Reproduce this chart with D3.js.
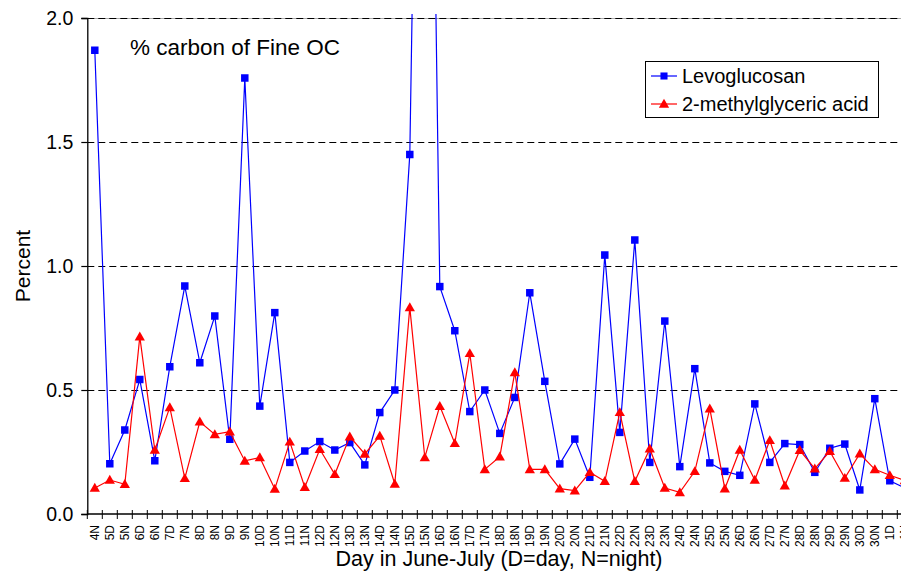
<!DOCTYPE html>
<html>
<head>
<meta charset="utf-8">
<script src="https://cdn.jsdelivr.net/npm/d3@7"></script>
<style>
  html, body { margin: 0; padding: 0; background: #fff; }
  svg { display: block; font-family: "Liberation Sans", Arial, sans-serif; }
</style>
</head>
<body>
<svg id="chart" width="901" height="576"></svg>
<script>
// ---- data ----
const categories = ["4N","5D","5N","6D","6N","7D","7N","8D","8N","9D","9N","10D","10N","11D","11N",
  "12D","12N","13D","13N","14D","14N","15D","15N","16D","16N","17D","17N","18D","18N","19D","19N",
  "20D","20N","21D","21N","22D","22N","23D","23N","24D","24N","25D","25N","26D","26N","27D","27N",
  "28D","28N","29D","29N","30D","30N","1D","1N"];

const levoglucosan = [1.87,0.203,0.339,0.542,0.215,0.594,0.919,0.610,0.798,0.301,1.758,0.435,0.812,0.208,0.254,
  0.292,0.258,0.288,0.198,0.409,0.500,1.450,5.2,0.917,0.739,0.413,0.500,0.325,0.470,0.892,0.535,
  0.202,0.302,0.148,1.044,0.329,1.105,0.208,0.778,0.191,0.586,0.206,0.172,0.156,0.444,0.208,0.284,
  0.280,0.168,0.265,0.282,0.097,0.465,0.134,0.105];

const methylglyceric = [0.105,0.137,0.120,0.715,0.258,0.430,0.144,0.372,0.321,0.332,0.214,0.228,0.101,0.291,0.108,
  0.261,0.160,0.312,0.242,0.315,0.121,0.833,0.228,0.435,0.285,0.648,0.180,0.231,0.571,0.180,0.180,
  0.102,0.094,0.168,0.132,0.410,0.132,0.263,0.105,0.087,0.172,0.425,0.102,0.258,0.137,0.297,0.114,
  0.257,0.183,0.253,0.145,0.243,0.180,0.156,0.135];

const yTicks = [0, 0.5, 1.0, 1.5, 2.0];
const seriesNames = ["Levoglucosan", "2-methylglyceric acid"];

// ---- layout ----
const svg = d3.select("#chart");
const plotLeft = 87.3, plotTop = 18, plotBottom = 514, bandW = 15;

const x = d3.scaleBand().domain(categories).range([plotLeft, plotLeft + bandW * categories.length]).padding(0);
const y = d3.scaleLinear().domain([0, 2]).range([plotBottom, plotTop]);
const cx = c => x(c) + x.bandwidth() / 2;

// grid lines
svg.append("line").attr("x1", plotLeft).attr("x2", 901).attr("y1", y(2) + 0.5).attr("y2", y(2) + 0.5)
  .attr("stroke", "#aaa").attr("stroke-width", 1);
svg.append("g").selectAll("line").data(yTicks.filter(d => d > 0)).join("line")
  .attr("x1", plotLeft).attr("x2", 901)
  .attr("y1", d => y(d) + 0.5).attr("y2", d => y(d) + 0.5)
  .attr("stroke", "#000").attr("stroke-width", 1).attr("stroke-dasharray", "7,4");

// clip
svg.append("clipPath").attr("id", "clip").append("rect")
  .attr("x", plotLeft).attr("y", 14).attr("width", 900).attr("height", 510);

const plot = svg.append("g").attr("clip-path", "url(#clip)");

function drawSeries(values, color, shape) {
  const pts = categories.map((c, i) => [cx(c), y(values[i])]);
  plot.append("path").datum(pts)
    .attr("d", d3.line())
    .attr("fill", "none").attr("stroke", color).attr("stroke-width", 1.2);
  const sym = shape === "square"
    ? d3.symbol().type(d3.symbolSquare).size(56)
    : d3.symbol().type(d3.symbolTriangle).size(46);
  plot.append("g").selectAll("path").data(pts).join("path")
    .attr("transform", d => `translate(${d[0]},${shape === "square" ? d[1] : d[1] + 0.8})`)
    .attr("d", sym).attr("fill", color);
}
drawSeries(levoglucosan, "#0000FF", "square");
drawSeries(methylglyceric, "#FF0000", "triangle");

// y axis
const yAxis = d3.axisLeft(y).tickValues(yTicks).tickFormat(d3.format(".1f")).tickSize(6).tickPadding(8);
const gy = svg.append("g").attr("transform", `translate(${plotLeft},0)`).call(yAxis);
gy.select(".domain").attr("stroke", "#000").attr("stroke-width", 1.3);
gy.selectAll(".tick line").attr("stroke", "#000").attr("stroke-width", 1.2);
gy.selectAll("text").attr("font-size", 19.5).attr("fill", "#000")
  .attr("font-family", "'Liberation Sans', Arial, sans-serif");

// x axis
const xAxis = d3.axisBottom(x).tickSize(0).tickPadding(0);
const gx = svg.append("g").attr("transform", `translate(0,${plotBottom})`).call(xAxis);
gx.select(".domain").remove();
gx.selectAll(".tick text")
  .attr("font-size", 12).attr("fill", "#000")
  .attr("font-family", "'Liberation Sans', Arial, sans-serif")
  .attr("text-anchor", "end")
  .attr("transform", "translate(0,11) rotate(-90)")
  .attr("x", 0).attr("y", 0).attr("dy", "0.36em");
svg.append("line").attr("x1", plotLeft).attr("x2", 901).attr("y1", plotBottom).attr("y2", plotBottom)
  .attr("stroke", "#000").attr("stroke-width", 1.6);
svg.append("g").selectAll("line").data(categories).join("line")
  .attr("x1", d => x(d)).attr("x2", d => x(d))
  .attr("y1", plotBottom - 4).attr("y2", plotBottom + 5)
  .attr("stroke", "#000").attr("stroke-width", 1);

// axis titles
svg.append("text").attr("x", 499).attr("y", 566).attr("text-anchor", "middle")
  .attr("font-size", 21.5).text("Day in June-July (D=day, N=night)");
svg.append("text").attr("transform", "translate(30,266) rotate(-90)").attr("text-anchor", "middle")
  .attr("font-size", 21).text("Percent");

// chart annotation
svg.append("text").attr("x", 130).attr("y", 55).attr("font-size", 22.5).text("% carbon of Fine OC");

// legend
const lg = svg.append("g");
lg.append("rect").attr("x", 645.5).attr("y", 61.5).attr("width", 233).attr("height", 56)
  .attr("fill", "#fff").attr("stroke", "#000").attr("stroke-width", 1);
const legendColors = ["#0000FF", "#FF0000"];
seriesNames.forEach((name, i) => {
  const yy = 76 + i * 28;
  lg.append("line").attr("x1", 651).attr("x2", 677).attr("y1", yy).attr("y2", yy)
    .attr("stroke", legendColors[i]).attr("stroke-width", 1.2);
  lg.append("path")
    .attr("transform", `translate(664,${i === 0 ? yy : yy + 0.8})`)
    .attr("d", d3.symbol().type(i === 0 ? d3.symbolSquare : d3.symbolTriangle).size(i === 0 ? 50 : 46)())
    .attr("fill", legendColors[i]);
  lg.append("text").attr("x", 682).attr("y", yy + 7).attr("font-size", 20).text(name);
});
</script>
</body>
</html>
